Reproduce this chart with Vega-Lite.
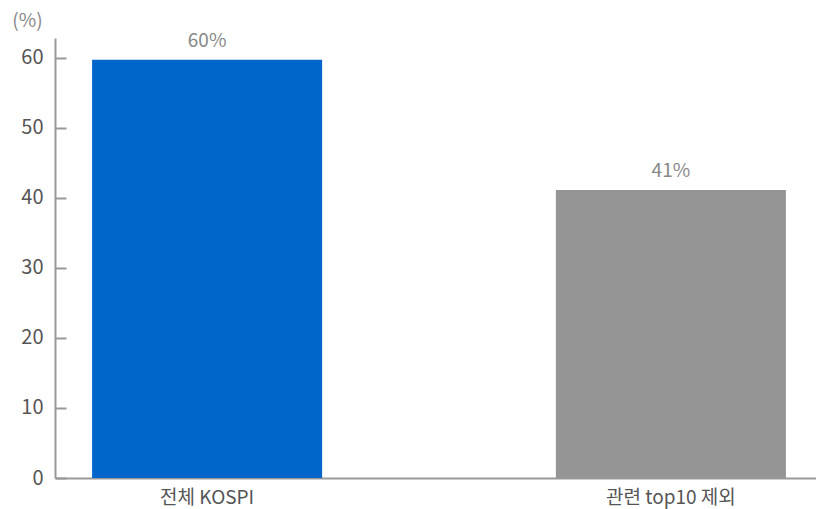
{
  "$schema": "https://vega.github.io/schema/vega-lite/v6.json",
  "width": 768,
  "height": 440,
  "autosize": {"type": "none"},
  "padding": {"left": 55, "top": 38, "right": 0, "bottom": 31},
  "background": "white",
  "config": {
    "view": {"stroke": null},
    "font": "Noto Sans CJK KR"
  },
  "data": {
    "values": [
      {"category": "전체 KOSPI", "value": 59.7, "label": "60%"},
      {"category": "관련 top10 제외", "value": 41.1, "label": "41%"}
    ]
  },
  "encoding": {
    "x": {
      "field": "category",
      "type": "nominal",
      "sort": null,
      "scale": {"paddingInner": 0.504, "paddingOuter": 0.08},
      "axis": {
        "title": null,
        "labelAngle": 0,
        "labelFontSize": 19,
        "labelColor": "#555555",
        "labelPadding": 21,
        "domainColor": "#999999",
        "domainWidth": 2,
        "tickColor": "#bbbbbb",
        "tickSize": -11,
        "tickWidth": 2
      }
    },
    "y": {
      "field": "value",
      "type": "quantitative",
      "scale": {"domain": [0, 62.8], "nice": false},
      "axis": {
        "values": [0, 10, 20, 30, 40, 50, 60],
        "grid": false,
        "title": "(%)",
        "titleAngle": 0,
        "titleX": -28,
        "titleY": -18,
        "titleAlign": "center",
        "titleBaseline": "middle",
        "titleFontSize": 19,
        "titleFontWeight": "normal",
        "titleColor": "#888888",
        "labelFontSize": 20,
        "labelColor": "#555555",
        "labelPadding": 23,
        "domainColor": "#999999",
        "domainWidth": 2,
        "tickColor": "#999999",
        "tickSize": -11,
        "tickWidth": 2
      }
    }
  },
  "layer": [
    {
      "mark": {"type": "bar"},
      "encoding": {
        "color": {
          "field": "category",
          "type": "nominal",
          "scale": {"domain": ["전체 KOSPI", "관련 top10 제외"], "range": ["#0066CC", "#959595"]},
          "legend": null
        }
      }
    },
    {
      "mark": {"type": "text", "dy": -19, "fontSize": 19, "color": "#888888"},
      "encoding": {"text": {"field": "label"}}
    }
  ]
}
